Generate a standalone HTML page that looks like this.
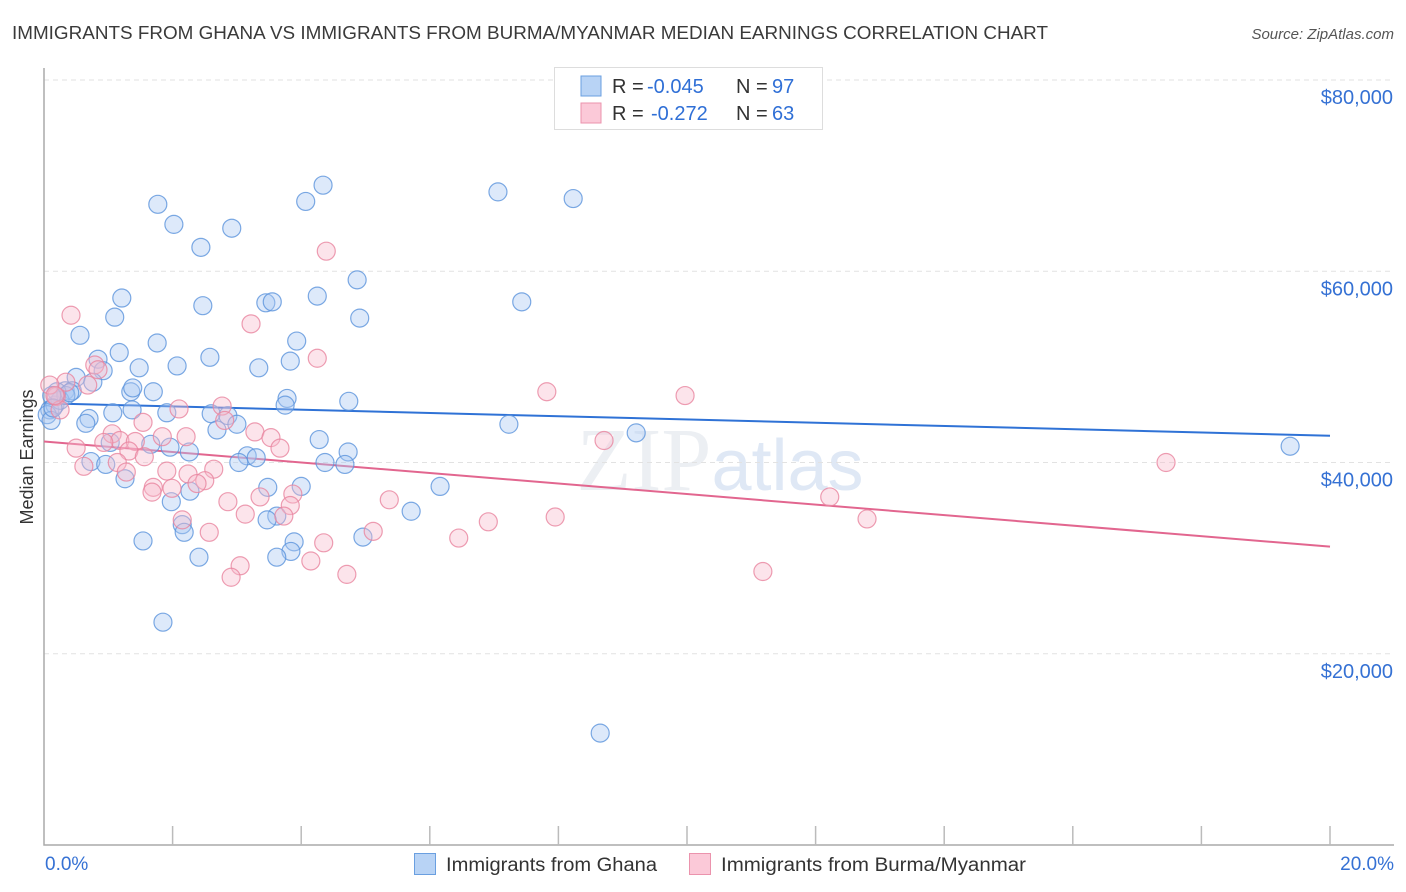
<!DOCTYPE html>
<html><head><meta charset="utf-8"><style>
body{margin:0;background:#fff;font-family:"Liberation Sans",sans-serif}
svg{display:block}
</style></head><body>
<svg id="chart" width="1406" height="892" xmlns="http://www.w3.org/2000/svg">
<text x="12" y="39" font-size="18" fill="#3a3a3a" textLength="1036" lengthAdjust="spacingAndGlyphs">IMMIGRANTS FROM GHANA VS IMMIGRANTS FROM BURMA/MYANMAR MEDIAN EARNINGS CORRELATION CHART</text>
<text x="1394" y="39" font-size="15" fill="#555" font-style="italic" text-anchor="end">Source: ZipAtlas.com</text>
<text x="720" y="490" font-size="90" fill="#eceff3" text-anchor="middle" font-family="Liberation Serif,serif">ZIP<tspan fill="#dfe8f5" font-family="Liberation Sans,sans-serif" font-size="72">atlas</tspan></text>
<g id="grid"></g><g id="axes"></g><g id="trends"></g><g id="pts"></g>
<text transform="translate(33,457) rotate(-90)" font-size="18" fill="#333" text-anchor="middle">Median Earnings</text>
<g>
<rect x="554.5" y="67.5" width="268" height="62" fill="#fff" stroke="#ddd"/>
<rect x="581" y="76" width="20" height="20" fill="#b8d3f5" stroke="#6a9fe0"/>
<rect x="581" y="103" width="20" height="20" fill="#fbc9d8" stroke="#eb93ad"/>
<text x="612" y="93" font-size="20" fill="#333">R =</text>
<text x="647" y="93" font-size="20" fill="#2f6fd6">-0.045</text>
<text x="736" y="93" font-size="20" fill="#333">N =</text>
<text x="772" y="93" font-size="20" fill="#2f6fd6">97</text>
<text x="612" y="120" font-size="20" fill="#333">R =</text>
<text x="651" y="120" font-size="20" fill="#2f6fd6">-0.272</text>
<text x="736" y="120" font-size="20" fill="#333">N =</text>
<text x="772" y="120" font-size="20" fill="#2f6fd6">63</text>
</g>
<g>
<rect x="414.5" y="853.5" width="21" height="21" fill="#b8d3f5" stroke="#6a9fe0"/>
<text x="446" y="871" font-size="19" fill="#333" textLength="211" lengthAdjust="spacingAndGlyphs">Immigrants from Ghana</text>
<rect x="689.5" y="853.5" width="21" height="21" fill="#fbc9d8" stroke="#eb93ad"/>
<text x="721" y="871" font-size="19" fill="#333" textLength="305" lengthAdjust="spacingAndGlyphs">Immigrants from Burma/Myanmar</text>
</g>
</svg>
<script>
const yTicks=[20000,40000,60000,80000];
const yTickLabels=["$20,000","$40,000","$60,000","$80,000"];
const xTicks=[0,2,4,6,8,10,12,14,16,18,20];
const xEndLabels=["0.0%","20.0%"];
const ghanaX=[1.77,2.02,2.92,2.44,4.07,4.34,7.06,8.23,4.87,1.21,2.47,3.45,3.55,4.25,1.10,4.91,0.56,1.76,3.93,1.17,0.84,2.58,2.07,1.48,3.34,3.83,0.50,0.92,0.76,0.33,0.44,1.35,1.70,1.38,3.78,4.74,3.75,1.37,1.07,1.91,2.60,2.86,0.70,0.65,3.00,2.69,1.03,1.66,1.96,4.28,4.73,2.26,3.16,3.30,3.03,0.73,0.96,4.37,4.68,1.26,4.00,3.48,2.27,6.16,1.98,3.62,3.47,5.71,2.15,2.18,1.54,3.89,4.96,3.84,3.62,2.41,1.85,7.23,9.21,19.38,7.43,8.65,0.09,0.17,0.05,0.11,0.25,0.34,0.20,0.12,0.40,0.14];
const ghanaY=[67.0,64.9,64.5,62.5,67.3,69.0,68.3,67.6,59.1,57.2,56.4,56.7,56.8,57.4,55.2,55.1,53.3,52.5,52.7,51.5,50.8,51.0,50.1,49.9,49.9,50.6,48.9,49.6,48.4,47.5,47.5,47.4,47.4,47.8,46.7,46.4,46.0,45.5,45.2,45.2,45.1,44.9,44.6,44.1,44.0,43.4,42.1,41.9,41.6,42.4,41.1,41.1,40.7,40.5,40.0,40.1,39.8,40.0,39.8,38.3,37.5,37.4,37.0,37.5,35.9,34.4,34.0,34.9,33.5,32.7,31.8,31.7,32.2,30.7,30.1,30.1,23.3,44.0,43.1,41.7,56.8,11.7,45.5,46.0,45.0,44.4,46.5,47.0,47.4,47.0,47.3,45.7];
const burmaX=[0.42,3.22,4.39,4.25,7.82,9.97,0.79,0.84,0.34,0.68,0.19,0.25,2.10,2.77,1.54,1.06,1.18,0.93,0.50,3.28,3.53,3.67,1.84,2.21,1.42,2.81,1.32,1.56,1.14,0.62,1.91,2.24,2.64,1.28,2.50,2.38,1.70,1.99,1.68,3.87,3.36,5.37,2.86,3.83,3.13,2.15,3.73,2.57,4.35,5.12,6.91,7.95,6.45,8.71,12.22,12.80,17.45,11.18,3.05,2.91,4.15,4.71,0.09,0.17];
const burmaY=[55.4,54.5,62.1,50.9,47.4,47.0,50.2,49.7,48.4,48.1,46.9,45.5,45.6,45.9,44.2,43.0,42.3,42.1,41.5,43.2,42.6,41.5,42.7,42.7,42.2,44.4,41.2,40.6,40.0,39.6,39.1,38.8,39.3,39.0,38.1,37.8,37.4,37.3,36.9,36.7,36.4,36.1,35.9,35.5,34.6,34.0,34.4,32.7,31.6,32.8,33.8,34.3,32.1,42.3,36.4,34.1,40.0,28.6,29.2,28.0,29.7,28.3,48.1,47.0];
const ghanaTrend=[46.2,42.8];
const burmaTrend=[42.2,31.2];

const NS="http://www.w3.org/2000/svg";
const X0=44,X1=1330,Y0=845,YMAX=80000,YTOP=80;
const sx=v=>X0+(v/20)*(X1-X0);
const sy=v=>Y0-(v/YMAX)*(Y0-YTOP);
function mk(t,a,p){const e=document.createElementNS(NS,t);for(const k in a)e.setAttribute(k,a[k]);p.appendChild(e);return e;}
const grid=document.getElementById('grid'),axes=document.getElementById('axes'),trends=document.getElementById('trends'),pts=document.getElementById('pts');
yTicks.forEach((v,i)=>{
 const l=mk('line',{x1:X0,x2:1394,y1:sy(v),y2:sy(v),stroke:'#e2e2e2','stroke-dasharray':'5,4'},grid);
 
 
 const t=mk('text',{x:1393,y:sy(v)+24,'font-size':20,fill:'#3571d4','text-anchor':'end'},grid);
 t.textContent=yTickLabels[i];
 
 
});
const ax=mk('path',{d:`M${X0},68 V${Y0} H1394`,fill:'none',stroke:'#aaa','stroke-width':1.5},axes);


xTicks.forEach(v=>{if(v===0)return;
 const t=mk('line',{x1:sx(v),x2:sx(v),y1:Y0,y2:Y0-19,stroke:'#bbb','stroke-width':1.5},axes);
 
 
});
const xl0=mk('text',{x:45,y:870,'font-size':19,fill:'#3571d4'},axes);xl0.textContent=xEndLabels[0];


const xl1=mk('text',{x:1394,y:870,'font-size':19,fill:'#3571d4','text-anchor':'end'},axes);xl1.textContent=xEndLabels[1];


function dots(xs,ys,fill,stroke,name){xs.forEach((x,i)=>{
 const c=mk('circle',{cx:sx(x),cy:sy(ys[i]*1000),r:9,fill:fill,'fill-opacity':0.4,stroke:stroke,'stroke-width':1.2,'stroke-opacity':0.8},pts);
 
 
});}
dots(ghanaX,ghanaY,'#a9c8f2','#5b93dc','ghana-point');
dots(burmaX,burmaY,'#f7bccd','#e8859f','burma-point');
const t1=mk('line',{x1:sx(0),y1:sy(ghanaTrend[0]*1000),x2:sx(20),y2:sy(ghanaTrend[1]*1000),stroke:'#2f72d6','stroke-width':2},trends);


const t2=mk('line',{x1:sx(0),y1:sy(burmaTrend[0]*1000),x2:sx(20),y2:sy(burmaTrend[1]*1000),stroke:'#e2668f','stroke-width':2},trends);


</script>
</body></html>
